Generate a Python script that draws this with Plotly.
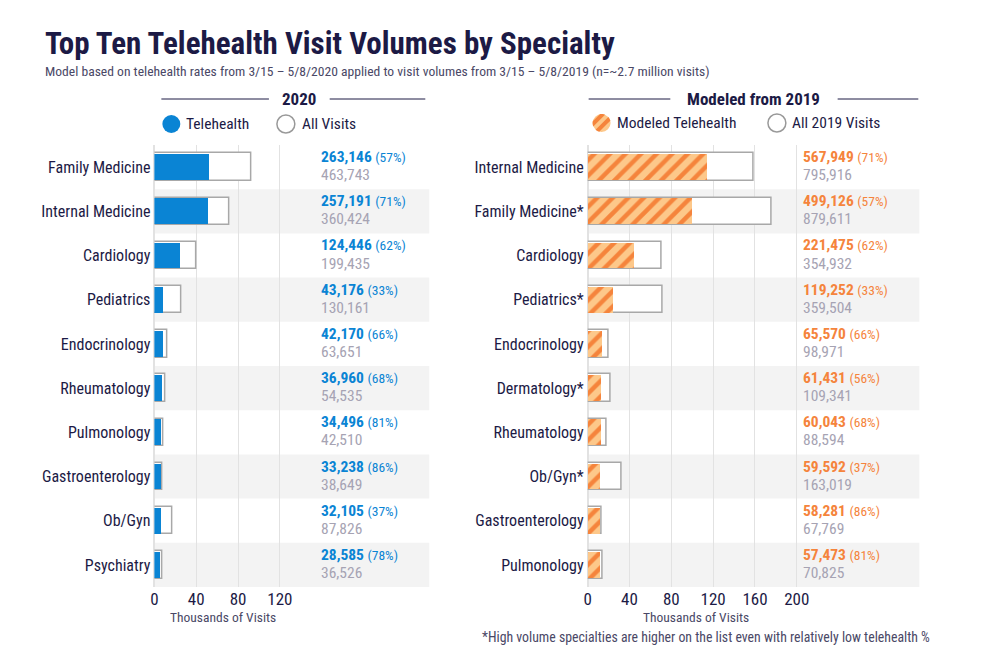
import numpy as np
import plotly.graph_objects as go

# ---------------- data ----------------
left_cats = ["Family Medicine", "Internal Medicine", "Cardiology", "Pediatrics", "Endocrinology",
             "Rheumatology", "Pulmonology", "Gastroenterology", "Ob/Gyn", "Psychiatry"]
left_tele = [263146, 257191, 124446, 43176, 42170, 36960, 34496, 33238, 32105, 28585]
left_all = [463743, 360424, 199435, 130161, 63651, 54535, 42510, 38649, 87826, 36526]
left_pct = [57, 71, 62, 33, 66, 68, 81, 86, 37, 78]

right_cats = ["Internal Medicine", "Family Medicine*", "Cardiology", "Pediatrics*", "Endocrinology",
              "Dermatology*", "Rheumatology", "Ob/Gyn*", "Gastroenterology", "Pulmonology"]
right_tele = [567949, 499126, 221475, 119252, 65570, 61431, 60043, 59592, 58281, 57473]
right_all = [795916, 879611, 354932, 359504, 98971, 109341, 88594, 163019, 67769, 70825]
right_pct = [71, 57, 62, 33, 66, 56, 68, 37, 86, 81]

x_ticks_left = [0, 40, 80, 120]
x_ticks_right = [0, 40, 80, 120, 160, 200]
SCALE = 5000  # chart axis unit

FONT = "Roboto Condensed, Liberation Sans Narrow, Arial Narrow, sans-serif"
NAVY = "#1c1a45"
SUB = "#4a4866"
BLUE = "#0a84d4"
ORANGE = "#f5843c"
LORANGE = "#fdc88a"
GRAY_TXT = "#a6a3b3"
OUTLINE = "#a8a8a8"
BAND = "#f3f3f3"
GRID = "#e2e2e2"

W, H = 1000, 667


def px(x):
    return x / W


def py(y):
    return 1 - y / H


fig = go.Figure()

# ---- left panel bars ----
fig.add_trace(go.Bar(
    x=[v / SCALE for v in left_all], y=left_cats, orientation="h", width=0.62,
    marker=dict(color="white", line=dict(color=OUTLINE, width=1.5)),
    xaxis="x", yaxis="y", hoverinfo="skip", showlegend=False))
fig.add_trace(go.Bar(
    x=[v / SCALE for v in left_tele], y=left_cats, orientation="h", width=0.58,
    marker=dict(color=BLUE, line=dict(width=0)),
    xaxis="x", yaxis="y", hoverinfo="skip", showlegend=False))

# ---- right panel bars ----
fig.add_trace(go.Bar(
    x=[v / SCALE for v in right_all], y=right_cats, orientation="h", width=0.62,
    marker=dict(color="white", line=dict(color=OUTLINE, width=1.5)),
    xaxis="x2", yaxis="y2", hoverinfo="skip", showlegend=False))
fig.add_trace(go.Bar(
    x=[v / SCALE for v in right_tele], y=right_cats, orientation="h", width=0.58,
    marker=dict(color=LORANGE, line=dict(width=0),
                pattern=dict(shape="/", fgcolor=ORANGE, bgcolor=LORANGE, size=11, solidity=0.4,
                             fillmode="replace")),
    xaxis="x2", yaxis="y2", hoverinfo="skip", showlegend=False))

y_dom = [py(587), py(145)]
fig.update_layout(
    width=W, height=H, margin=dict(l=0, r=0, t=0, b=0),
    paper_bgcolor="white", plot_bgcolor="white",
    barmode="overlay", bargap=0,
    font=dict(family=FONT, color=NAVY),
    xaxis=dict(domain=[px(151), px(427)], range=[0, 276 / 1.05], tickvals=x_ticks_left,
               showgrid=True, gridcolor=GRID, gridwidth=1, zeroline=True, zerolinecolor=GRID,
               tickfont=dict(size=17, color=NAVY, family=FONT), ticks="", fixedrange=True),
    yaxis=dict(domain=y_dom, autorange="reversed", anchor="x", ticks="", showgrid=False,
               tickfont=dict(size=16, color=NAVY, family=FONT), ticklabelstandoff=3),
    xaxis2=dict(domain=[px(586), px(919)], range=[0, 333 / 1.05], tickvals=x_ticks_right,
                anchor="y2", showgrid=True, gridcolor=GRID, gridwidth=1, zeroline=True,
                zerolinecolor=GRID, tickfont=dict(size=17, color=NAVY, family=FONT), ticks=""),
    yaxis2=dict(domain=y_dom, autorange="reversed", anchor="x2", ticks="", showgrid=False,
                tickfont=dict(size=16, color=NAVY, family=FONT), ticklabelstandoff=3),
)

shapes = []
annos = []

# alternating bands
for xr in ["x", "x2"]:
    for i in range(1, 10, 2):
        shapes.append(dict(type="rect", xref=f"{xr} domain", yref=xr.replace("x", "y"),
                           x0=0, x1=1, y0=i - 0.5, y1=i + 0.5, fillcolor=BAND,
                           line=dict(width=0), layer="below"))


# value labels
def value_labels(xref, yref, xpos, tele, allv, pct, color, cats):
    for i, c in enumerate(cats):
        annos.append(dict(xref=xref, yref=yref, x=xpos, y=c, xanchor="left", yanchor="middle",
                          yshift=10, showarrow=False, borderpad=0,
                          text=f"<b>{tele[i]:,}</b> <span style='font-size:13.5px'>({pct[i]}%)</span>",
                          font=dict(size=15.5, color=color, family=FONT)))
        annos.append(dict(xref=xref, yref=yref, x=xpos, y=c, xanchor="left", yanchor="middle",
                          yshift=-8, showarrow=False, borderpad=0, text=f"{allv[i]:,}",
                          font=dict(size=15.5, color=GRAY_TXT, family=FONT)))


value_labels("x", "y", (317 - 151) / 1.05, left_tele, left_all, left_pct, BLUE, left_cats)
value_labels("x2", "y2", (801 - 586) / 1.05, right_tele, right_all, right_pct, ORANGE, right_cats)

# title / subtitle
annos.append(dict(xref="paper", yref="paper", x=px(39), y=py(44), xanchor="left", yanchor="middle",
                  showarrow=False, text="<b>Top Ten Telehealth Visit Volumes by Specialty</b>",
                  font=dict(size=31, color=NAVY, family=FONT)))
annos.append(dict(xref="paper", yref="paper", x=px(39), y=py(71), xanchor="left", yanchor="middle",
                  showarrow=False,
                  text="Model based on telehealth rates from 3/15 \u2013 5/8/2020 applied to visit volumes from 3/15 \u2013 5/8/2019 (n=~2.7 million visits)",
                  font=dict(size=13.6, color=SUB, family=FONT)))

# section headers
for text, cx, segs in [("2020", 296, [(158, 266), (327, 423)]),
                       ("Modeled from 2019", 753, [(587, 669), (837, 918)])]:
    annos.append(dict(xref="paper", yref="paper", x=px(cx), y=py(99), xanchor="center",
                      yanchor="middle", showarrow=False, text=f"<b>{text}</b>",
                      font=dict(size=17, color=NAVY, family=FONT)))
    for a, b in segs:
        shapes.append(dict(type="line", xref="paper", yref="paper", x0=px(a), x1=px(b),
                           y0=py(99), y1=py(99), line=dict(color=NAVY, width=1)))

# legends
R = 9


def circle(cx, cy, fill, line_color=None, lw=0):
    shapes.append(dict(type="circle", xref="paper", yref="paper",
                       x0=px(cx - R), x1=px(cx + R), y0=py(cy + R), y1=py(cy - R),
                       fillcolor=fill,
                       line=dict(color=line_color or fill, width=lw)))


circle(168, 124, BLUE)
circle(283, 124, "white", "#999999", 1.5)
circle(776, 123, "white", "#999999", 1.5)
circle(600, 123, LORANGE)
# stripes for the hatched legend circle (pixel-sized paths)
for s1, s2 in [(-7.5, -3.5), (0.5, 4.5)]:
    ss = np.linspace(s1, s2, 12)
    tt = np.sqrt(np.clip(R ** 2 - ss ** 2, 0, None))
    pts = [((s + t) / np.sqrt(2), (t - s) / np.sqrt(2)) for s, t in zip(ss, tt)]
    pts += [((s - t) / np.sqrt(2), (-t - s) / np.sqrt(2)) for s, t in zip(ss[::-1], tt[::-1])]
    path = "M " + " L ".join(f"{x:.2f},{y:.2f}" for x, y in pts) + " Z"
    shapes.append(dict(type="path", xref="paper", yref="paper", xsizemode="pixel",
                       ysizemode="pixel", xanchor=px(600), yanchor=py(123), path=path,
                       fillcolor=ORANGE, line=dict(width=0)))

for text, x, y in [("Telehealth", 181, 124), ("All Visits", 297, 124),
                   ("Modeled Telehealth", 613, 123), ("All 2019 Visits", 789, 123)]:
    annos.append(dict(xref="paper", yref="paper", x=px(x), y=py(y), xanchor="left",
                      yanchor="middle", showarrow=False, text=text,
                      font=dict(size=15.5, color=NAVY, family=FONT)))

# axis titles
for x, in [(220,), (695,)]:
    annos.append(dict(xref="paper", yref="paper", x=px(x), y=py(617), xanchor="center",
                      yanchor="middle", showarrow=False, text="Thousands of Visits",
                      font=dict(size=13.5, color=SUB, family=FONT)))

annos.append(dict(xref="paper", yref="paper", x=px(932), y=py(637), xanchor="right",
                  yanchor="middle", showarrow=False,
                  text="*High volume specialties are higher on the list even with relatively low telehealth %",
                  font=dict(size=13.8, color=SUB, family=FONT)))

fig.update_layout(shapes=shapes, annotations=annos)
fig.write_html("out.html")
